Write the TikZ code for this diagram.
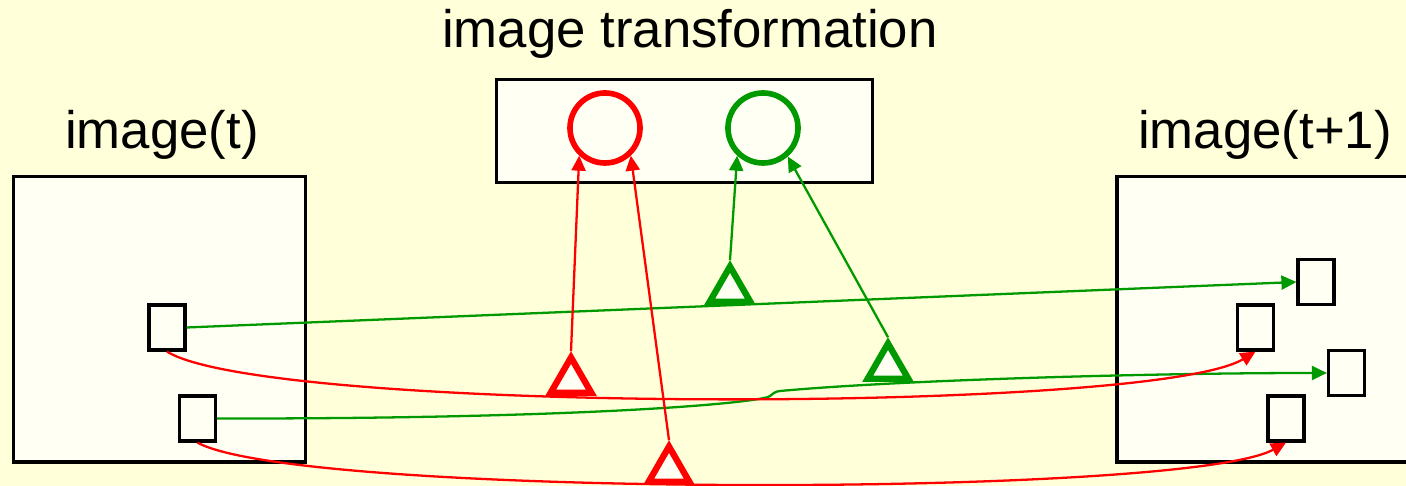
\documentclass[tikz,border=0pt]{standalone}
\usepackage{fontspec}
\setmainfont{Liberation Sans}
\usetikzlibrary{arrows.meta,shapes.geometric}
\definecolor{paper}{HTML}{FFFFD9}
\definecolor{pane}{HTML}{FFFFF4}
\definecolor{leafgreen}{HTML}{009900}
\tikzset{
  frame/.style={draw,line width=0.9pt,fill=pane,inner sep=0pt},
  patch/.style={draw,line width=0.9pt,fill=pane,minimum width=0.36cm,minimum height=0.45cm,inner sep=0pt},
  unit/.style={circle,draw=#1,line width=1.6pt,fill=pane,minimum size=0.70cm,inner sep=0pt},
  feat/.style={regular polygon,regular polygon sides=3,draw=#1,line width=1.8pt,fill=pane,minimum size=0.47cm,inner sep=0pt,anchor=side 2},
  link/.style={draw=#1,line width=0.65pt,-{Triangle[length=0.15cm,width=0.14cm]}},
  lbl/.style={font=\fontsize{15}{18}\selectfont,anchor=base}
}
\begin{document}
\begin{tikzpicture}[x=0.01cm,y=-0.01cm]
\useasboundingbox (0,0) rectangle (1406,486);
\fill[paper] (0,0) rectangle (1406,486);
\node[lbl] (title) at (690,48) {image transformation};
\node[lbl] (imgt) at (162,149) {image(t)};
\node[lbl] (imgtt) at (1265,149) {image(t+1)};
\node[frame,minimum width=2.92cm,minimum height=2.85cm] (left) at (159.5,319.5) {};
\node[frame,minimum width=2.92cm,minimum height=2.85cm] (right) at (1263,319.5) {};
\node[frame,minimum width=3.76cm,minimum height=1.03cm] (trans) at (684.5,131) {};
\node[unit=red] (rc) at (605,128) {};
\node[unit=leafgreen] (gc) at (763,128) {};
\node[patch] (la) at (167,327.5) {};
\node[patch] (lb) at (197.5,418.5) {};
\node[patch] (ra) at (1316,282) {};
\node[patch] (rb) at (1255.5,327.5) {};
\node[patch] (rc2) at (1346.5,373) {};
\node[patch] (rd) at (1286,418.5) {};
\draw[link=leafgreen] (la.east) -- (ra.west);
\draw[link=leafgreen] (lb.east) .. controls (560,419) and (740,405) .. (768,397)
  .. controls (772,396) and (772,392) .. (780,391)
  .. controls (900,380) and (1150,373) .. (rc2.west);
\draw[link=red] (la.south) .. controls (267,414) and (1153,414) .. (rb.south);
\draw[link=red] (lb.south) .. controls (297,498) and (1186,498) .. (rd.south);
\node[feat=red] (fa) at (571,396) {};
\node[feat=red] (fb) at (669,485) {};
\node[feat=leafgreen] (fc) at (730,305) {};
\node[feat=leafgreen] (fd) at (888,382) {};
\draw[link=red] (fa.corner 1) -- (rc.227);
\draw[link=red] (fb.corner 1) -- (rc.313);
\draw[link=leafgreen] (fc.corner 1) -- (gc.227);
\draw[link=leafgreen] (fd.corner 1) -- (gc.311);
\end{tikzpicture}
\end{document}
